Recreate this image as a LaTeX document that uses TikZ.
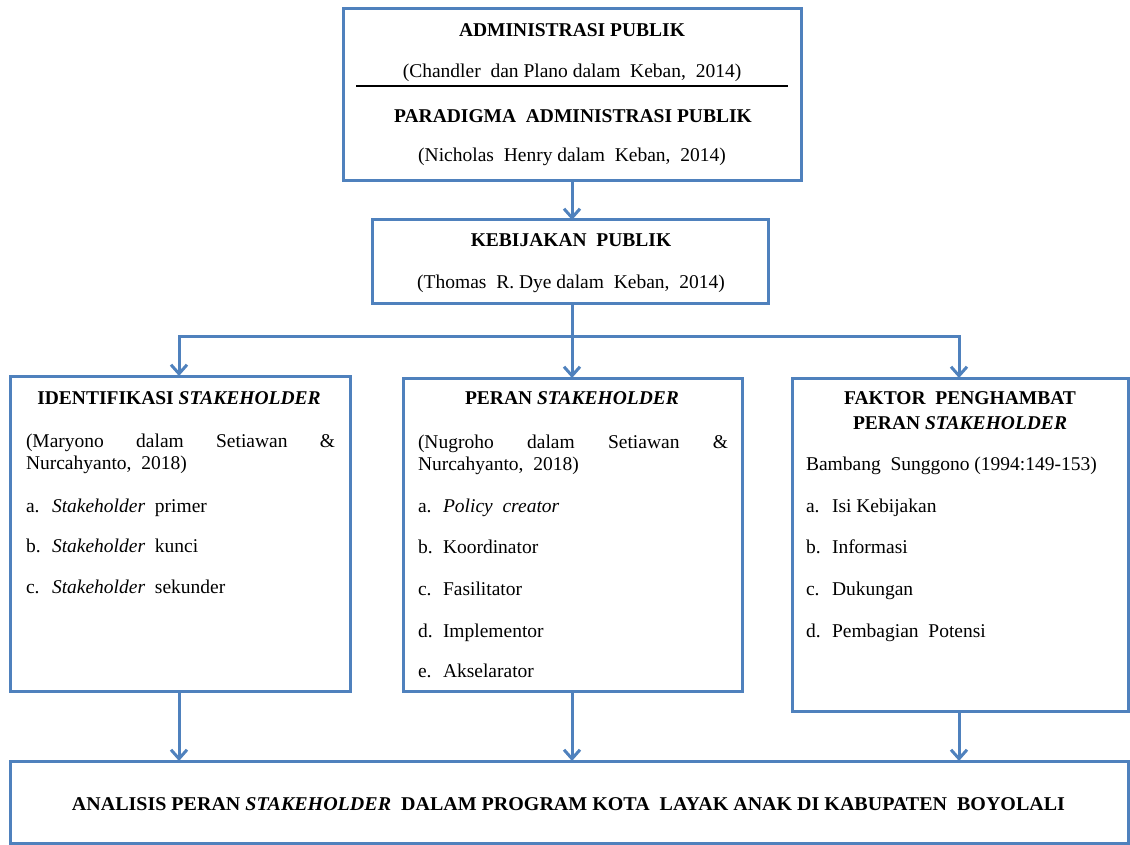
\documentclass[tikz,border=0pt]{standalone}
\usepackage{fontspec}
\usepackage{graphicx}
\setmainfont{Liberation Serif}
\usetikzlibrary{arrows.meta}
\definecolor{boxblue}{RGB}{79,129,189}
\tikzset{
  box/.style={draw=boxblue, line width=3pt, inner sep=0pt, outer sep=0pt, fill=white},
  conn/.style={draw=boxblue, line width=3pt},
  arr/.style={conn, -{Straight Barb[length=9pt,width=16pt]}},
  txt/.style={inner sep=0pt, outer sep=0pt, font=\fontsize{19.5}{23}\selectfont},
  ctr/.style={txt, anchor=base},
  lft/.style={txt, anchor=base west},
}
\begin{document}
\begin{tikzpicture}[x=1pt,y=-1pt]
\useasboundingbox (0,0) rectangle (1130,845);
% boxes
\node[box, minimum width=458pt, minimum height=172pt] (top) at (572,95) {};
\node[box, minimum width=396pt, minimum height=83pt] (keb) at (570,261.5) {};
\node[box, minimum width=340pt, minimum height=315pt] (left) at (180,533.5) {};
\node[box, minimum width=339pt, minimum height=313pt] (mid) at (572.5,534.5) {};
\node[box, minimum width=336pt, minimum height=333pt] (right) at (960,544.5) {};
\node[box, minimum width=1118pt, minimum height=82pt] (bot) at (569,802) {};
% top box text
\node[ctr] (t1) at (572,37) {\textbf{ADMINISTRASI PUBLIK}};
\node[ctr] (t2) at (572,78) {(Chandler\ \ dan Plano dalam\ \ Keban,\ \ 2014)};
\coordinate (hl) at (356,86);
\coordinate (hr) at (788,86);
\draw[line width=1.5pt, black] (hl) -- (hr);
\node[ctr] (t3) at (573,123) {\textbf{PARADIGMA\ \ ADMINISTRASI PUBLIK}};
\node[ctr] (t4) at (572,162) {(Nicholas\ \ Henry dalam\ \ Keban,\ \ 2014)};
% kebijakan
\node[ctr] (k1) at (571,247) {\textbf{KEBIJAKAN\ \ PUBLIK}};
\node[ctr] (k2) at (571,288) {(Thomas\ \ R. Dye dalam\ \ Keban,\ \ 2014)};
% left box
\node[ctr] (l1) at (179,404) {\textbf{IDENTIFIKASI \textit{STAKEHOLDER}}};
\node[lft] (l2) at (26,447) {\makebox[309pt][s]{(Maryono dalam Setiawan \&}};
\node[lft] (l3) at (26,469) {Nurcahyanto,\ \ 2018)};
\node[lft] (la) at (26,512) {a.};
\node[lft] (lat) at (52,512) {\textit{Stakeholder}\ \ primer};
\node[lft] (lb) at (26,552) {b.};
\node[lft] (lbt) at (52,552) {\textit{Stakeholder}\ \ kunci};
\node[lft] (lc) at (26,593) {c.};
\node[lft] (lct) at (52,593) {\textit{Stakeholder}\ \ sekunder};
% middle box
\node[ctr] (m1) at (572,404) {\textbf{PERAN \textit{STAKEHOLDER}}};
\node[lft] (m2) at (418,448) {\makebox[310pt][s]{(Nugroho dalam Setiawan \&}};
\node[lft] (m3) at (418,470) {Nurcahyanto,\ \ 2018)};
\node[lft] (ma) at (418,512) {a.};
\node[lft] (mat) at (443,512) {\textit{Policy\ \ creator}};
\node[lft] (mb) at (418,553) {b.};
\node[lft] (mbt) at (443,553) {Koordinator};
\node[lft] (mc) at (418,595) {c.};
\node[lft] (mct) at (443,595) {Fasilitator};
\node[lft] (md) at (418,637) {d.};
\node[lft] (mdt) at (443,637) {Implementor};
\node[lft] (me) at (418,677) {e.};
\node[lft] (met) at (443,677) {Akselarator};
% right box
\node[ctr] (r1) at (960,404) {\textbf{FAKTOR\ \ PENGHAMBAT}};
\node[ctr] (r2) at (960,429) {\textbf{PERAN \textit{STAKEHOLDER}}};
\node[lft] (r3) at (806,470) {Bambang\ \ Sunggono (1994:149-153)};
\node[lft] (ra) at (806,512) {a.};
\node[lft] (rat) at (832,512) {Isi Kebijakan};
\node[lft] (rb) at (806,553) {b.};
\node[lft] (rbt) at (832,553) {Informasi};
\node[lft] (rc) at (806,595) {c.};
\node[lft] (rct) at (832,595) {Dukungan};
\node[lft] (rd) at (806,637) {d.};
\node[lft] (rdt) at (832,637) {Pembagian\ \ Potensi};
% bottom
\node[ctr] (b1) at (568.5,810) {\resizebox{993pt}{\height}{\textbf{ANALISIS PERAN \textit{STAKEHOLDER}\ \ DALAM PROGRAM KOTA\ \ LAYAK ANAK DI KABUPATEN\ \ BOYOLALI}}};
% connectors
\coordinate (j) at (572,336);
\coordinate (lj) at (179,336);
\coordinate (rj) at (959,336);
\draw[arr] (top.south) -- (top.south |- keb.north);
\draw[conn] (j |- keb.south) -- (j);
\draw[conn, line cap=rect] (lj) -- (rj);
\draw[arr] (lj) -- (lj |- left.north);
\draw[arr] (j) -- (j |- mid.north);
\draw[arr] (rj) -- (rj |- right.north);
\draw[arr] (lj |- left.south) -- (lj |- bot.north);
\draw[arr] (j |- mid.south) -- (j |- bot.north);
\draw[arr] (rj |- right.south) -- (rj |- bot.north);
\end{tikzpicture}
\end{document}
